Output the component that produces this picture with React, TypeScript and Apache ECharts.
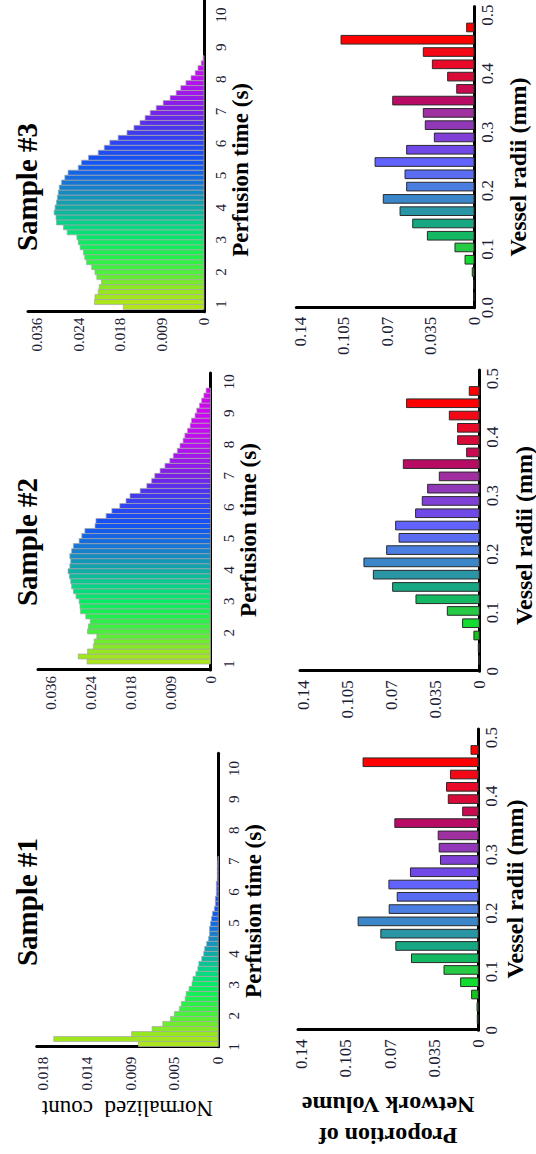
import React, { useEffect, useRef } from 'react';
import * as echarts from 'echarts';

// ---------- tick values and labels ----------
const TIME_TICKS = [1, 2, 3, 4, 5, 6, 7, 8, 9, 10];
const S1_COUNT_TICKS = [0, 0.0045, 0.009, 0.0135, 0.018];
const S1_COUNT_LABELS = ['0', '0.005', '0.009', '0.014', '0.018'];
const S23_COUNT_TICKS = [0, 0.009, 0.018, 0.027, 0.036];
const S23_COUNT_LABELS = ['0', '0.009', '0.018', '0.024', '0.036'];
const RADIUS_TICKS = [0, 0.1, 0.2, 0.3, 0.4, 0.5];
const RADIUS_LABELS = ['0', '0.1', '0.2', '0.3', '0.4', '0.5'];
const RADIUS_LABELS_S3 = ['0.0', '0.1', '0.2', '0.3', '0.4', '0.5'];
const VOLUME_TICKS = [0, 0.035, 0.07, 0.105, 0.14];
const VOLUME_LABELS = ['0', '0.035', '0.07', '0.105', '0.14'];

// ---------- perfusion time histograms (normalized count per bin) ----------
const S1_BIN_START = 1.087;
const S1_BIN_STEP = 0.162;
const S1_COUNTS = [
  0.0082, 0.0169, 0.0089, 0.0068, 0.0057, 0.0049, 0.0045, 0.0040, 0.0038, 0.0034,
  0.0033, 0.0030, 0.0027, 0.0026, 0.0023, 0.0021, 0.0020, 0.0017, 0.0015, 0.0014,
  0.0012, 0.0010, 0.0009, 0.0009, 0.0008, 0.0007, 0.0006, 0.0004, 0.0003, 0.0003,
  0.0002, 0.0002, 0.0002, 0.0001, 0.0001, 0.0001, 0.0001, 0.00003,
];

const S2_BIN_START = 1.08;
const S2_BIN_STEP = 0.16;
const S2_COUNTS = [
  0.0279, 0.0299, 0.0278, 0.0265, 0.0263, 0.0257, 0.0278, 0.0276, 0.0272, 0.0282,
  0.0294, 0.0295, 0.0297, 0.0304, 0.0310, 0.0314, 0.0316, 0.0319, 0.0322, 0.0318,
  0.0316, 0.0318, 0.0314, 0.0310, 0.0297, 0.0291, 0.0284, 0.0261, 0.0259, 0.0236,
  0.0223, 0.0205, 0.0191, 0.0182, 0.0159, 0.0144, 0.0133, 0.0126, 0.0114, 0.0103,
  0.0092, 0.0084, 0.0075, 0.0069, 0.0062, 0.0058, 0.0052, 0.0046, 0.0043, 0.0035,
  0.0031, 0.0025, 0.0020, 0.0015, 0.0010,
];

const S3_BIN_START = 0.907;
const S3_BIN_STEP = 0.155;
const S3_COUNTS = [
  0.0174, 0.0236, 0.0235, 0.0228, 0.0226, 0.0221, 0.0231, 0.0235, 0.0242, 0.0253,
  0.0257, 0.0260, 0.0267, 0.0271, 0.0274, 0.0295, 0.0303, 0.0318, 0.0319, 0.0323,
  0.0321, 0.0318, 0.0316, 0.0314, 0.0312, 0.0307, 0.0300, 0.0293, 0.0271, 0.0264,
  0.0249, 0.0228, 0.0215, 0.0203, 0.0185, 0.0166, 0.0151, 0.0138, 0.0127, 0.0116,
  0.0103, 0.0088, 0.0073, 0.0060, 0.0050, 0.0039, 0.0028, 0.0019, 0.0013, 0.0006,
  0.0002,
];

// ---------- vessel radii (proportion of network volume) ----------
const RADII = [
  0.019, 0.040, 0.061, 0.082, 0.103, 0.123, 0.144, 0.165, 0.186, 0.207, 0.228, 0.249,
  0.270, 0.291, 0.312, 0.333, 0.354, 0.374, 0.395, 0.416, 0.437, 0.458, 0.479,
];
const S1_VOLUME = [
  0.0008, 0.001, 0.0053, 0.014, 0.0272, 0.053, 0.0654, 0.0773, 0.0953, 0.0707, 0.0643, 0.0709,
  0.0538, 0.030, 0.031, 0.0318, 0.0662, 0.0124, 0.0238, 0.0252, 0.022, 0.0914, 0.0058,
];
const S2_VOLUME = [
  0.0005, 0.0008, 0.0043, 0.0133, 0.0255, 0.0505, 0.0691, 0.0845, 0.092, 0.0739, 0.064, 0.0667,
  0.0508, 0.0455, 0.0412, 0.0319, 0.0606, 0.0101, 0.0173, 0.0173, 0.0239, 0.058, 0.008,
];
const S3_VOLUME = [
  0, 0.0003, 0.0014, 0.0072, 0.0153, 0.0375, 0.0493, 0.0595, 0.073, 0.0542, 0.0555, 0.0796,
  0.0542, 0.0319, 0.0392, 0.0408, 0.0654, 0.0139, 0.0212, 0.0335, 0.0408, 0.107, 0.0059,
];

// ---------- styles ----------
const SERIF = '"Liberation Serif", "Times New Roman", serif';
const LABEL_COLOR = '#1b2133';
const HIST_COLORS = [
  '#b8e214', '#b0e41c', '#8ee822', '#4cf03a', '#20f04c', '#08ea66', '#06d488', '#10aaa6',
  '#1888c4', '#1468e2', '#1452f4', '#2c46f2', '#4c36ec', '#7a22e6', '#9c18ea', '#b812ee',
  '#c60cf0', '#cc08f0', '#d004f0', '#d400f0',
];
const RADII_COLORS = [
  '#1a7a1a', '#22aa22', '#14c41c', '#12dc30', '#26ca44', '#14b864', '#17a884', '#2a95a5',
  '#3a86c8', '#4a7ee0', '#5a6cf2', '#6262ff', '#7048e8', '#8040d8', '#9038b8', '#a030a0',
  '#b80c64', '#c80a50', '#d80a38', '#e80a28', '#f50815', '#ff0000', '#ff0000',
];

const pick = (ticks: number[], labels: string[]) => (v: number) => {
  const i = ticks.findIndex((t) => Math.abs(t - v) < 1e-9);
  return i >= 0 ? labels[i] : '';
};

const rectRenderer = (half: number, stroke: string, lineWidth: number) => (_p: any, api: any) => {
  const x = api.value(0);
  const y = api.value(1);
  const a = api.coord([x - half, y]);
  const b = api.coord([x + half, 0]);
  return {
    type: 'rect',
    shape: { x: a[0], y: a[1], width: b[0] - a[0], height: b[1] - a[1] },
    style: { fill: api.visual('color'), stroke, lineWidth },
  };
};

const axisLine = { show: true, onZero: false, lineStyle: { color: '#000', width: 3 } };

function buildOption() {
  const grids = [
    { left: 107.3, top: 36.7, width: 293.4, height: 181.6 },
    { left: 484, top: 38, width: 297, height: 172.5 },
    { left: 842.3, top: 28, width: 311.7, height: 176 },
    { left: 123.8, top: 298, width: 301.3, height: 180.3 },
    { left: 482.8, top: 300, width: 301.3, height: 179.3 },
    { left: 846.3, top: 296.3, width: 301.3, height: 177.7 },
  ].map((g) => ({ ...g, outerBoundsMode: 'none', containLabel: false }));

  const timeAxis = (gridIndex: number, min: number, max: number, margin: number, nameGap: number, padR: number) => ({
    type: 'value', gridIndex, min, max, axisLine, axisTick: { show: false }, splitLine: { show: false },
    axisLabel: {
      customValues: TIME_TICKS, margin, fontFamily: SERIF, fontSize: 15, color: LABEL_COLOR,
      formatter: (v: number) => String(Math.round(v)),
    },
    name: 'Perfusion time (s)', nameLocation: 'middle', nameGap,
    nameTextStyle: { fontFamily: SERIF, fontSize: 23, fontWeight: 'bold', color: '#000', padding: [0, padR, 0, 0] },
  });
  const radiusAxis = (gridIndex: number, labels: string[], nameGap: number, padR: number) => ({
    type: 'value', gridIndex, min: 0, max: 0.515, axisLine, axisTick: { show: false }, splitLine: { show: false },
    axisLabel: {
      customValues: RADIUS_TICKS, margin: 5, fontFamily: SERIF, fontSize: 17, color: LABEL_COLOR,
      formatter: pick(RADIUS_TICKS, labels),
    },
    name: 'Vessel radii (mm)', nameLocation: 'middle', nameGap,
    nameTextStyle: { fontFamily: SERIF, fontSize: 24, fontWeight: 'bold', color: '#000', padding: [0, padR, 0, 0] },
  });
  const countAxis = (gridIndex: number, max: number, ticks: number[], labels: string[], margin: number, extra: any = {}) => ({
    type: 'value', gridIndex, min: 0, max, axisLine, axisTick: { show: false }, splitLine: { show: false },
    axisLabel: { customValues: ticks, margin, fontFamily: SERIF, fontSize: 15, color: LABEL_COLOR, formatter: pick(ticks, labels) },
    ...extra,
  });
  const volumeAxis = (gridIndex: number, extra: any = {}) => ({
    type: 'value', gridIndex, min: 0, max: 0.143, axisLine, axisTick: { show: false }, splitLine: { show: false },
    axisLabel: { customValues: VOLUME_TICKS, margin: 9, fontFamily: SERIF, fontSize: 17, color: LABEL_COLOR, formatter: pick(VOLUME_TICKS, VOLUME_LABELS) },
    ...extra,
  });

  const xAxis = [
    timeAxis(0, 1, 10.49, 8, 18, 22),
    timeAxis(1, 0.81, 10.28, 11, 21, 17),
    timeAxis(2, 0.76, 10.47, 9, 24, 28),
    radiusAxis(3, RADIUS_LABELS, 25, 19),
    radiusAxis(4, RADIUS_LABELS, 33, 30),
    radiusAxis(5, RADIUS_LABELS_S3, 32, 20),
  ];
  const yAxis = [
    countAxis(0, 0.01865, S1_COUNT_TICKS, S1_COUNT_LABELS, 10, {
      name: 'Normalized  count', nameLocation: 'middle', nameGap: 50,
      nameTextStyle: { fontFamily: SERIF, fontSize: 23, color: '#000' },
    }),
    countAxis(1, 0.039, S23_COUNT_TICKS, S23_COUNT_LABELS, 6),
    countAxis(2, 0.03794, S23_COUNT_TICKS, S23_COUNT_LABELS, 6),
    volumeAxis(3, {
      name: 'Proportion of\nNetwork Volume', nameLocation: 'middle', nameGap: 59,
      nameTextStyle: { fontFamily: SERIF, fontSize: 24, fontWeight: 'bold', color: '#000', lineHeight: 31 },
    }),
    volumeAxis(4),
    volumeAxis(5),
  ];

  const hist = (idx: number, start: number, step: number, counts: number[]) => ({
    type: 'custom', xAxisIndex: idx, yAxisIndex: idx, encode: { x: 0, y: 1 },
    renderItem: rectRenderer(step / 2, '#a6a6a6', 0.7),
    data: counts.map((c, i) => [start + i * step, c]),
  });
  const radii = (idx: number, volume: number[]) => ({
    type: 'custom', xAxisIndex: idx, yAxisIndex: idx, encode: { x: 0, y: 1 },
    renderItem: rectRenderer(0.0074, '#2a2a2a', 1),
    data: RADII.map((r, i) => [r, volume[i]]),
  });

  const title = (text: string, x: number) => ({
    type: 'text', x, y: 27,
    style: { text, fontFamily: SERIF, fontSize: 29, fontWeight: 'bold', fill: '#000', align: 'center', verticalAlign: 'middle' },
  });

  return {
    animation: false,
    backgroundColor: '#fff',
    grid: grids,
    xAxis,
    yAxis,
    visualMap: [
      { type: 'continuous', show: false, seriesIndex: [0, 1, 2], dimension: 0, min: 0.5, max: 10, inRange: { color: HIST_COLORS } },
      { type: 'continuous', show: false, seriesIndex: [3, 4, 5], dimension: 0, min: 0.019, max: 0.479, inRange: { color: RADII_COLORS } },
    ],
    series: [
      hist(0, S1_BIN_START, S1_BIN_STEP, S1_COUNTS),
      hist(1, S2_BIN_START, S2_BIN_STEP, S2_COUNTS),
      hist(2, S3_BIN_START, S3_BIN_STEP, S3_COUNTS),
      radii(3, S1_VOLUME),
      radii(4, S2_VOLUME),
      radii(5, S3_VOLUME),
    ],
    graphic: [title('Sample #1', 252), title('Sample #2', 612), title('Sample #3', 967)],
  };
}

export default function App() {
  const ref = useRef<HTMLDivElement>(null);
  useEffect(() => {
    if (!ref.current) return;
    const chart = echarts.init(ref.current, null, { renderer: 'svg' });
    chart.setOption(buildOption() as any);
    return () => chart.dispose();
  }, []);
  return (
    <div style={{ position: 'absolute', left: 0, top: 0, width: 536, height: 1154, overflow: 'hidden', background: '#fff' }}>
      <div
        ref={ref}
        style={{
          position: 'absolute', left: 0, top: 0, width: 1154, height: 536,
          transformOrigin: '0 0', transform: 'translateY(1154px) rotate(-90deg)',
        }}
      />
    </div>
  );
}
